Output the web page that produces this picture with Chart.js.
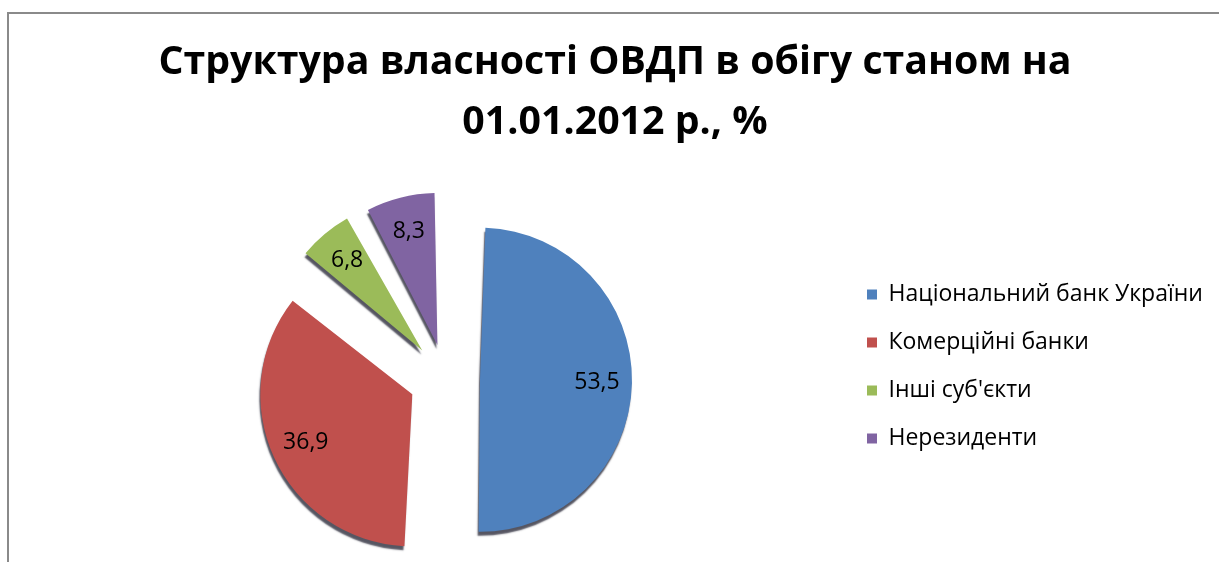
<!DOCTYPE html>
<html>
<head>
<meta charset="utf-8">
<script src="https://cdn.jsdelivr.net/npm/chart.js@4/dist/chart.umd.min.js"></script>
<style>
  html, body { margin: 0; padding: 0; overflow: hidden; background: #fff; }
  #frame { position: absolute; left: 7px; top: 12px; width: 1400px; height: 800px; border: 2px solid #8a8a8a; }
  #wrap { position: absolute; left: 0; top: 0; width: 1219px; height: 640px; }
</style>
</head>
<body>
<div id="frame"></div>
<div id="wrap"><canvas id="ovdpChart" width="1219" height="640"></canvas></div>
<script>
const titleLines = ['Структура власності ОВДП в обігу станом на', '01.01.2012 р., %'];
const holders = ['Національний банк України', 'Комерційні банки', "Інші суб'єкти", 'Нерезиденти'];
const shares = [53.5, 36.9, 6.8, 8.3];
const sliceColors = ['#4F81BD', '#C0504D', '#9BBB59', '#8064A2'];
const sliceOffsets = [136, 148, 148, 140];

Chart.defaults.font.family = "'Open Sans', 'DejaVu Sans', sans-serif";
Chart.defaults.color = '#000';

// Chart.js grows an exploded arc's radius; undo that so every slice keeps the same radius
function arcGrowth(arc) {
    const t = (arc.options.offset || 0) / 4;
    const fix = 1 - Math.sin(Math.min(Math.PI, arc.circumference || 0));
    return t * fix;
}

const evenRadius = {
    id: 'evenRadius',
    afterDatasetUpdate(chart, args) {
        args.meta.data.forEach(arc => {
            arc.outerRadius = arc.outerRadius - arcGrowth(arc);
        });
    }
};

// dark edge under each slice, like the 3D pie in Excel
const edgeShadow = {
    id: 'edgeShadow',
    beforeDatasetsDraw(chart) {
        const ctx = chart.ctx;
        ctx.save();
        ctx.shadowColor = 'rgba(30, 30, 45, 0.75)';
        ctx.shadowBlur = 1.5;
        ctx.shadowOffsetX = -1;
        ctx.shadowOffsetY = 4;
    },
    afterDatasetsDraw(chart) {
        chart.ctx.restore();
    }
};

// value labels inside the slices
const sliceLabels = {
    id: 'sliceLabels',
    afterDatasetsDraw(chart) {
        const ctx = chart.ctx;
        const meta = chart.getDatasetMeta(0);
        ctx.save();
        ctx.font = "23px 'Open Sans', sans-serif";
        ctx.fillStyle = '#000';
        ctx.textAlign = 'center';
        ctx.textBaseline = 'middle';
        meta.data.forEach((arc, i) => {
            const p = arc.getProps(['x', 'y', 'startAngle', 'endAngle', 'outerRadius'], true);
            const mid = (p.startAngle + p.endAngle) / 2;
            const shift = (arc.options.offset || 0) / 4;
            const r = shift + (p.outerRadius + arcGrowth(arc)) * 0.77;
            const text = shares[i].toFixed(1).replace('.', ',');
            ctx.fillText(text, p.x + Math.cos(mid) * r, p.y + Math.sin(mid) * r);
        });
        ctx.restore();
    }
};

const ctx = document.getElementById('ovdpChart').getContext('2d');
new Chart(ctx, {
    type: 'pie',
    data: {
        labels: holders,
        datasets: [{
            data: shares,
            backgroundColor: sliceColors,
            borderWidth: 0,
            offset: sliceOffsets,
            radius: 152,
            clip: false
        }]
    },
    options: {
        responsive: false,
        animation: false,
        layout: {
            padding: { left: 25, right: 14, top: 0, bottom: 42 }
        },
        plugins: {
            title: {
                display: true,
                text: titleLines,
                color: '#000',
                font: { size: 39.3, weight: 'bold', lineHeight: '60px' },
                padding: { top: 33, bottom: 7 }
            },
            legend: {
                display: true,
                position: 'right',
                align: 'center',
                fullSize: false,
                maxWidth: 338,
                labels: {
                    boxWidth: 10,
                    boxHeight: 10,
                    padding: 0,
                    color: '#000',
                    font: { size: 23, lineHeight: '48px' },
                    generateLabels(chart) {
                        const items = Chart.overrides.pie.plugins.legend.labels.generateLabels(chart);
                        return items.map(it => Object.assign(it, { text: [it.text] }));
                    }
                }
            },
            tooltip: { enabled: false }
        }
    },
    plugins: [evenRadius, edgeShadow, sliceLabels]
});
</script>
</body>
</html>
